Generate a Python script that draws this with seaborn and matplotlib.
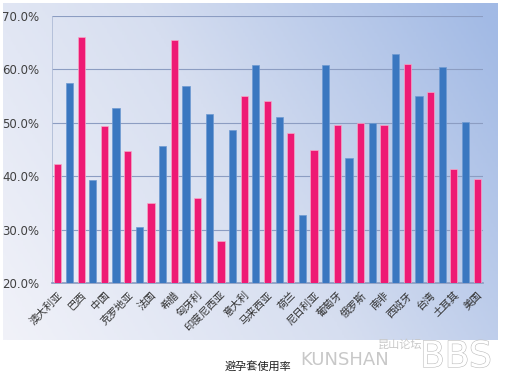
import numpy as np
import pandas as pd
import seaborn as sns
import matplotlib.pyplot as plt
import matplotlib.patheffects as pe
from matplotlib.colors import LinearSegmentedColormap

# 37 bars, alternating pink/blue; only every other category is labelled (Excel label skip)
labeled_countries = ["澳大利亚", "巴西", "中国", "克罗地亚", "法国", "希腊", "匈牙利",
                     "印度尼西亚", "意大利", "马来西亚", "荷兰", "尼日利亚", "葡萄牙",
                     "俄罗斯", "南非", "西班牙", "台湾", "土耳其", "美国"]
usage = [42.3, 57.5, 66.0, 39.2, 49.4, 52.8, 44.7, 30.5, 35.0, 45.6,
         65.5, 56.9, 35.9, 51.7, 27.8, 48.6, 55.0, 60.8, 54.0, 51.0,
         48.1, 32.7, 44.9, 60.9, 49.5, 43.5, 50.0, 50.0, 49.5, 62.8,
         61.0, 55.0, 55.8, 60.5, 41.4, 50.2, 39.5]
bar_group = ["pink" if i % 2 == 0 else "blue" for i in range(len(usage))]
title = "避孕套使用率"

df = pd.DataFrame({"pos": [str(i) for i in range(len(usage))],
                   "value": np.array(usage) / 100.0,
                   "group": bar_group})

sns.set_theme(style="white")
plt.rcParams['font.family'] = ['Noto Sans CJK SC', 'DejaVu Sans']

fig = plt.figure(figsize=(5.06, 3.8), dpi=100)

# gradient background of the chart area (whitish bottom-left -> blue right)
bg = fig.add_axes([3 / 506, 1 - 340 / 380, 495 / 506, 337 / 380], zorder=0)
gx, gy = np.meshgrid(np.linspace(0, 1, 200), np.linspace(0, 1, 200))
grad = np.clip(0.72 * gx + 0.3 * (1 - gy), 0, 1)
cmap = LinearSegmentedColormap.from_list("bg", ["#F1F2F9", "#D6DEF0", "#A2BAE5"])
bg.imshow(grad, cmap=cmap, aspect="auto", extent=[0, 1, 0, 1], origin="upper")
bg.axis("off")

ax = fig.add_axes([52 / 506, 1 - 283 / 380, 431 / 506, 267 / 380], zorder=1)
ax.patch.set_alpha(0)

sns.barplot(data=df, x="pos", y="value", hue="group", dodge=False, width=0.62,
            palette={"pink": "#EE1A74", "blue": "#3A77C0"}, saturation=1,
            legend=False, linewidth=0.5, ax=ax, zorder=3)
for p in ax.patches:
    if p.get_facecolor()[2] > 0.6:
        p.set_edgecolor("#6E9AD2")
    else:
        p.set_edgecolor("#F7A8C6")

ax.set_ylim(0.2, 0.7)
ax.set_xlim(-0.5, len(usage) - 0.5)
yticks = np.arange(0.2, 0.71, 0.1)
ax.set_yticks(yticks)
ax.set_yticklabels([f"{v * 100:.1f}%" for v in yticks],
                   fontsize=8.5, color="#404040", family="DejaVu Sans")
ax.yaxis.grid(True, color="#8C9DC2", linewidth=0.8, zorder=0)
ax.set_axisbelow(True)

ax.set_xticks(range(0, len(usage), 2))
ax.set_xticklabels(labeled_countries, rotation=45, ha="right", va="top",
                   rotation_mode="anchor", fontsize=7.5, color="#303030")
ax.set_xticks(np.arange(-0.5, len(usage), 1), minor=True)
ax.tick_params(axis="x", which="major", length=0, pad=5)
ax.tick_params(axis="x", which="minor", length=3, color="#8C9DC2", width=0.8)
ax.tick_params(axis="y", length=0, pad=9)
ax.set_xlabel("")
ax.set_ylabel("")
for s in ["top", "right"]:
    ax.spines[s].set_visible(False)
ax.spines["bottom"].set_color("#8C9DC2")
ax.spines["left"].set_color("#AEBBD6")
ax.spines["left"].set_linewidth(0.6)

# caption and watermark
fig.text(225 / 506, 1 - 366 / 380, title, fontsize=8, color="#202020", va="center")
fig.text(400 / 506, 1 - 345 / 380, "昆山论坛", fontsize=8, color="#C8C8C8", va="center", ha="center")
fig.text(300 / 506, 1 - 360 / 380, "KUNSHAN", fontsize=13, color="#C8C8C8", va="center",
         family="DejaVu Sans")
fig.text(420 / 506, 1 - 357 / 380, "BBS", fontsize=26, color="white", va="center",
         family="DejaVu Sans",
         path_effects=[pe.withStroke(linewidth=0.8, foreground="#BBBBBB")])

fig.savefig("out.png", dpi=100)
